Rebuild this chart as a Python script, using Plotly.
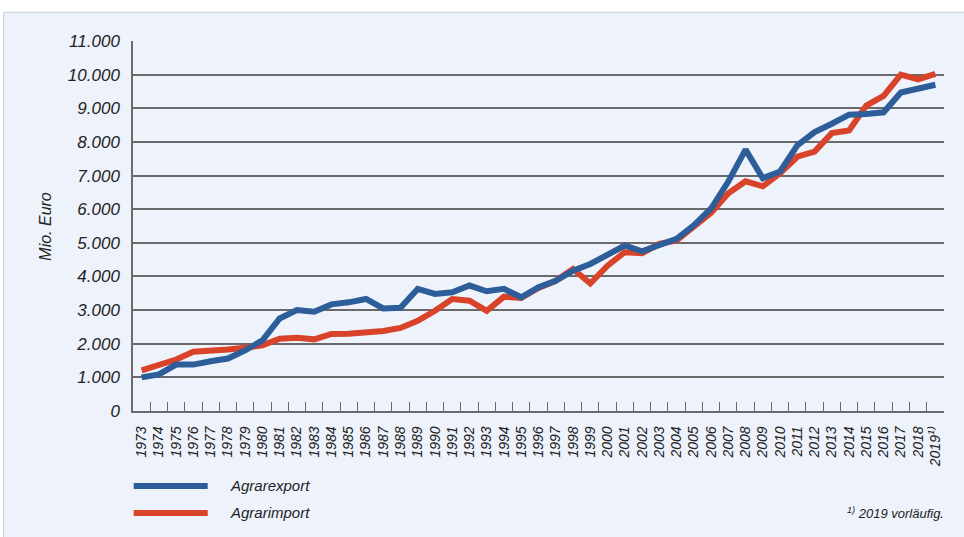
import plotly.graph_objects as go

years = [str(y) for y in range(1973, 2020)]
tick_labels = years[:-1] + ["2019<sup>1)</sup>"]

agrarexport = [1000, 1090, 1380, 1380, 1480, 1560, 1800, 2100, 2750, 3000, 2950, 3170,
               3230, 3330, 3050, 3070, 3630, 3480, 3530, 3730, 3560, 3630, 3380, 3680,
               3870, 4170, 4370, 4670, 4920, 4750, 4920, 5120, 5520, 6020, 6820, 7770,
               6920, 7120, 7900, 8290, 8540, 8810, 8830, 8880, 9470, 9570, 9700]
agrarimport = [1210, 1360, 1530, 1760, 1780, 1830, 1880, 1950, 2150, 2180, 2130, 2290,
               2300, 2320, 2380, 2470, 2680, 2980, 3330, 3280, 2980, 3400, 3360, 3660,
               3870, 4220, 3790, 4320, 4720, 4690, 4970, 5070, 5470, 5890, 6470, 6830,
               6680, 7070, 7560, 7710, 8260, 8340, 9080, 9370, 10000, 9860, 10020]

BLUE = "#2D5E9A"
RED = "#D8432A"
BG = "#EDF2FB"
GRID = "#6A6A6A"
TXT = "#222222"
FONT = "Liberation Sans, Arial, sans-serif"

fig = go.Figure()
fig.add_trace(go.Scatter(x=years, y=agrarimport, mode="lines", name="Agrarimport",
                         line=dict(color=RED, width=6)))
fig.add_trace(go.Scatter(x=years, y=agrarexport, mode="lines", name="Agrarexport",
                         line=dict(color=BLUE, width=6)))

L, R, T, B = 133.3, 944.3, 40.7, 411.0
W, H = R - L, B - T

def px(x):
    return (x - L) / W

def py(y):
    return (B - y) / H

shapes = [
    dict(type="rect", xref="paper", yref="paper", x0=px(4), x1=px(975), y0=py(560), y1=py(12),
         fillcolor=BG, line=dict(color="#C9CDD4", width=1), layer="below"),
    dict(type="line", xref="paper", yref="paper", x0=px(134), x1=px(208), y0=py(486), y1=py(486),
         line=dict(color=BLUE, width=6)),
    dict(type="line", xref="paper", yref="paper", x0=px(134), x1=px(208), y0=py(513), y1=py(513),
         line=dict(color=RED, width=6)),
]

italic = dict(family=FONT, color=TXT, style="italic")
annotations = [
    dict(xref="paper", yref="paper", x=px(45), y=0.5, text="Mio. Euro", textangle=-90,
         showarrow=False, xanchor="center", yanchor="middle", font=dict(size=16, **italic)),
    dict(xref="paper", yref="paper", x=px(228), y=py(486), text="Agrarexport",
         showarrow=False, xanchor="left", yanchor="middle", font=dict(size=15, **italic)),
    dict(xref="paper", yref="paper", x=px(228), y=py(513), text="Agrarimport",
         showarrow=False, xanchor="left", yanchor="middle", font=dict(size=15, **italic)),
    dict(xref="paper", yref="paper", x=px(946), y=py(513), text="<sup>1)</sup> 2019 vorläufig.",
         showarrow=False, xanchor="right", yanchor="middle", font=dict(size=13, **italic)),
]

fig.update_layout(
    width=964, height=537,
    margin=dict(l=L, r=964 - R, t=T, b=537 - B, pad=0),
    paper_bgcolor="white", plot_bgcolor="rgba(0,0,0,0)",
    separators=",.",
    showlegend=False,
    shapes=shapes, annotations=annotations,
    font=dict(family=FONT, color=TXT),
)
fig.update_xaxes(
    type="category", range=[-0.5, 46.5],
    tickmode="array", tickvals=years, ticktext=tick_labels,
    tickangle=-90, tickson="boundaries", ticks="inside", ticklen=9, tickwidth=1.2,
    tickcolor=GRID, showline=True, linecolor=GRID, linewidth=1.5, showgrid=False,
    tickfont=dict(size=14, **italic), ticklabelstandoff=8,
)
fig.update_yaxes(
    range=[0, 11000], tickmode="linear", tick0=0, dtick=1000, tickformat=",.0f",
    showgrid=True, gridcolor=GRID, gridwidth=1.5, zeroline=False,
    showline=True, linecolor=GRID, linewidth=1.5,
    tickfont=dict(size=17, **italic), ticklabelstandoff=8,
)

fig.write_html("out.html", config={"displayModeBar": False},
               post_script="document.body.style.margin='0';document.body.style.padding='0';")
